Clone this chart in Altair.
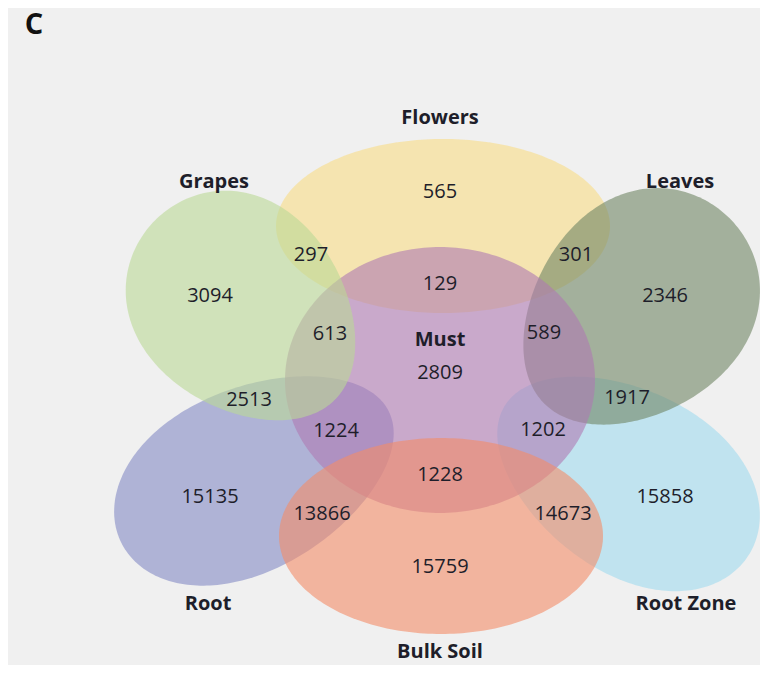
import altair as alt
import numpy as np
import pandas as pd

# ---------------- data ----------------
# (listed in drawing order, back to front)
set_names = ["Flowers", "Root", "Root Zone", "Leaves", "Must", "Grapes", "Bulk Soil"]
region_counts = ["565", "297", "301", "3094", "129", "2346", "613", "589", "2809",
                 "2513", "1917", "1224", "1202", "1228", "15135", "13866", "14673",
                 "15858", "15759"]
panel_letter = "C"

# ---------------- layout / style (reference pixel space) ----------------
set_colors = ["#F8DC85", "#848AC5", "#A0DAEE", "#708564", "#AF7AB2", "#BBD996", "#F38C67"]
# shape geometry: centre x, centre y, semi-major, semi-minor, rotation (deg, clockwise), egg factor
ell_cx = [443, 255, 627, 637, 440, 245, 441]
ell_cy = [226, 477, 480, 311, 380, 310, 536]
ell_a = [167, 149, 143, 131, 155, 127, 162]
ell_b = [87, 91, 91, 104, 133, 101, 98]
ell_rot = [0, -26, 31, -45, 0, 45, 0]
ell_egg = [0, -0.1, 0.1, 0.13, 0, -0.13, 0]

set_label_x = [440, 208, 686, 680, 440, 214, 440]
set_label_y = [118, 604, 604, 182, 340, 182, 652]

count_x = [440, 311, 576, 210, 440, 665, 330, 544, 440, 249, 627, 336, 543, 440,
           210, 322, 563, 665, 440]
count_y = [192, 255, 255, 296, 284, 296, 334, 333, 373, 400, 398, 431, 430, 475,
           497, 514, 514, 497, 567]

FONT = "Open Sans"
TXT = "#1E1E2A"
proj = alt.Projection(type="identity", scale=1, translate=[-8, -8]).to_dict()

# ---------------- shape layers ----------------
t = np.linspace(0, 2 * np.pi, 241)
layers = []
for name, col, cx, cy, a, b, r, k in zip(set_names, set_colors, ell_cx, ell_cy,
                                         ell_a, ell_b, ell_rot, ell_egg):
    phi = np.deg2rad(r)
    u = a * np.cos(t)
    v = b * np.sin(t) * (1 + k * np.cos(t))
    xs = cx + u * np.cos(phi) - v * np.sin(phi)
    ys = cy + u * np.sin(phi) + v * np.cos(phi)
    ring = [[float(x), float(y)] for x, y in zip(xs, ys)]
    feat = {"type": "Feature", "properties": {"name": name},
            "geometry": {"type": "Polygon", "coordinates": [ring]}}
    layers.append(
        alt.Chart(alt.Data(values=[feat]))
        .mark_geoshape(fill=col, fillOpacity=0.6, strokeWidth=0)
        .project(**proj)
    )

labels_df = pd.DataFrame({"x": set_label_x, "y": set_label_y, "label": set_names})
counts_df = pd.DataFrame({"x": count_x, "y": count_y, "label": region_counts})
letter_df = pd.DataFrame({"x": [34], "y": [25], "label": [panel_letter]})

label_layer = alt.Chart(labels_df).mark_text(
    font=FONT, fontSize=20, fontWeight="bold", color=TXT, baseline="middle", align="center"
).encode(longitude="x:Q", latitude="y:Q", text="label:N").project(**proj)

count_layer = alt.Chart(counts_df).mark_text(
    font=FONT, fontSize=20, color=TXT, baseline="middle", align="center"
).encode(longitude="x:Q", latitude="y:Q", text="label:N").project(**proj)

letter_layer = alt.Chart(letter_df).mark_text(
    font=FONT, fontSize=29, fontWeight="bold", color="#111111", baseline="middle", align="center"
).encode(longitude="x:Q", latitude="y:Q", text="label:N").project(**proj)

chart = alt.layer(*layers, label_layer, count_layer, letter_layer).properties(
    width=752, height=657, background="#F0F0F0", padding=0, autosize="none"
).configure_view(stroke=None)

chart.save("out.html", embed_options={"renderer": "svg", "actions": False})
